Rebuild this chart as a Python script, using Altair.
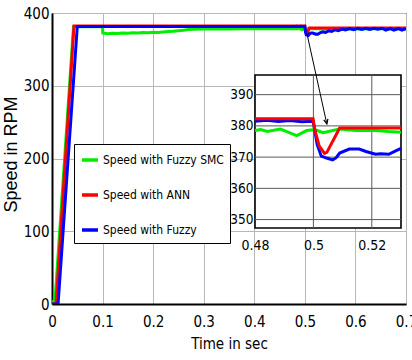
import altair as alt
import pandas as pd

# ---- series data (time in s, speed in RPM) ----
series_names = ["Speed with Fuzzy SMC", "Speed with ANN", "Speed with Fuzzy"]
series_colors = ["#00ee00", "#ff0000", "#0000ff"]

t_fsmc = [0, 0.003, 0.006, 0.0425, 0.1, 0.1005,
          0.11, 0.12, 0.13, 0.14, 0.15, 0.16, 0.17, 0.18, 0.19, 0.2, 0.21, 0.22,
          0.23, 0.24, 0.25, 0.26, 0.27, 0.28,
          0.3, 0.32, 0.35, 0.38, 0.41, 0.44, 0.47,
          0.48, 0.4819, 0.4842, 0.4887, 0.4943, 0.4977, 0.5005, 0.5033, 0.5089,
          0.5145, 0.5201, 0.5257, 0.53,
          0.56, 0.6, 0.64, 0.67, 0.7]
v_fsmc = [0, 4, 5, 381, 381, 372.5,
          371.5, 372.3, 371.8, 372.6, 372.2, 373, 372.6, 373.2, 373, 373.6, 373.3, 374,
          374.5, 374.8, 375.5, 376.3, 377.2, 377.8,
          378, 378.3, 378.1, 378.5, 378.3, 378.6, 378.4,
          378.5, 378.8, 378.2, 379, 376.9, 378.5, 378.8, 377.8, 379,
          378.5, 378.6, 378.2, 378,
          378.4, 378.1, 378.5, 378.2, 378.3]

t_ann = [0, 0.008, 0.0435, 0.48, 0.4999, 0.5004, 0.502, 0.5038, 0.5046, 0.509, 0.53, 0.7]
v_ann = [0, 0, 382.3, 382.3, 382.3, 379, 373.5, 371.2, 371.5, 379.3, 379.3, 379.3]

t_fz = [0, 0.012, 0.05,
        0.48, 0.484, 0.488, 0.492, 0.496, 0.4999,
        0.5004, 0.5013, 0.5027, 0.5045, 0.5066, 0.5078, 0.509,
        0.5123, 0.5157, 0.518, 0.5213, 0.523, 0.5258, 0.528, 0.53,
        0.536, 0.541, 0.547, 0.553, 0.56, 0.566,
        0.574, 0.58, 0.589, 0.596, 0.605, 0.612,
        0.621, 0.628, 0.637, 0.644, 0.653, 0.66,
        0.669, 0.676, 0.685, 0.692, 0.7]
v_fz = [0, 0, 381.5,
        381.5, 381.8, 381.4, 381.7, 381.3, 381.5,
        379, 374, 370.3, 369.7, 369.1, 369.8, 371.3,
        372.6, 372.6, 371.8, 370.9, 371.1, 370.9, 371.9, 372.8,
        374, 373.2, 375.5, 374.6, 377, 375.8,
        378, 376.8, 378.6, 377, 379, 377.4,
        379, 377.5, 379, 377.8, 379, 376.6,
        378.6, 376.5, 378.6, 376.4, 378.5]

# axis ticks
x_ticks = [0, 0.1, 0.2, 0.3, 0.4, 0.5, 0.6, 0.7]
y_ticks = [0, 100, 200, 300, 400]
inset_x_ticks = [0.48, 0.5, 0.52]
inset_y_ticks = [350, 360, 370, 380, 390]
inset_x_domain = [0.48, 0.53]
inset_y_domain = [347.3, 396.3]

# arrow from the disturbance to the zoomed view
arrow_t = [0.504, 0.5435]
arrow_v = [372, 247.5]


def frame(name, t, v):
    return pd.DataFrame({"t": t, "speed": v, "series": name})


df_fsmc = frame(series_names[0], t_fsmc, v_fsmc)
df_ann = frame(series_names[1], t_ann, v_ann)
df_fz = frame(series_names[2], t_fz, v_fz)

W, H = 354, 291
NARROW = "DejaVu Sans Condensed, Liberation Sans Narrow, sans-serif"

# ---- main plot ----
x_main = alt.Scale(domain=[0, 0.7], nice=False, zero=False)
y_main = alt.Scale(domain=[0, 400], nice=False, zero=False)

x_axis = alt.Axis(values=x_ticks, format="~g", title="Time in sec", grid=True,
                  gridColor="#b8b8b8", gridWidth=1, ticks=False,
                  domainColor="black", domainWidth=2.2, labelFlush=False,
                  labelOverlap=False, labelPadding=10, labelFont=NARROW,
                  labelFontSize=15, labelColor="black", titleFont=NARROW,
                  titleFontSize=15, titleFontWeight="normal", titleColor="black",
                  titlePadding=7)
y_axis = alt.Axis(values=y_ticks, title="Speed in RPM", grid=True,
                  gridColor="#b8b8b8", gridWidth=1, ticks=False,
                  domainColor="black", domainWidth=2, labelFlush=False,
                  labelOverlap=False, labelPadding=3, labelFont=NARROW,
                  labelFontSize=15, labelColor="black",
                  titleFont="Liberation Sans, Arial, sans-serif", titleFontSize=18,
                  titleFontWeight="normal", titleColor="black",
                  titleX=-32, titleY=141)

color = alt.Color(
    "series:N",
    scale=alt.Scale(domain=series_names, range=series_colors),
    legend=alt.Legend(title=None, orient="none", legendX=22, legendY=131,
                      fillColor="white", strokeColor="black", padding=6,
                      symbolType="stroke", symbolSize=256, symbolStrokeWidth=3.5,
                      labelFont=NARROW, labelFontSize=12, labelColor="black",
                      labelOffset=3, rowPadding=18),
)


def main_line(df):
    return alt.Chart(df).mark_line(strokeWidth=3, clip=True).encode(
        x=alt.X("t:Q", scale=x_main, axis=x_axis),
        y=alt.Y("speed:Q", scale=y_main, axis=y_axis),
        color=color,
    )


main = alt.layer(main_line(df_fsmc), main_line(df_ann), main_line(df_fz))

# ---- zoomed inset ----
x_in = alt.Scale(domain=inset_x_domain, range=[203, 349], nice=False, zero=False)
y_in = alt.Scale(domain=inset_y_domain, range=[215, 62], nice=False, zero=False)

in_x_axis = alt.Axis(values=inset_x_ticks, format="~g", orient="bottom", offset=-76,
                     title=None, grid=False, ticks=False, domain=False,
                     labelFlush=False, labelOverlap=False, labelPadding=10,
                     labelFont=NARROW, labelFontSize=14, labelColor="black")
in_y_axis = alt.Axis(values=inset_y_ticks, orient="left", offset=-203, title=None,
                     grid=False, ticks=False, domain=False, labelFlush=False,
                     labelOverlap=False, labelPadding=2, labelFont=NARROW,
                     labelFontSize=13.5, labelColor="black")

box_df = pd.DataFrame({"x0": [inset_x_domain[0]], "x1": [inset_x_domain[1]],
                       "y0": [inset_y_domain[0]], "y1": [inset_y_domain[1]]})
hgrid_df = pd.DataFrame({"g": inset_y_ticks, "x0": inset_x_domain[0],
                         "x1": inset_x_domain[1]})
vgrid_df = pd.DataFrame({"g": inset_x_ticks[1:], "y0": inset_y_domain[0],
                         "y1": inset_y_domain[1]})

inset_box = alt.Chart(box_df).mark_rect(fill="white", stroke="black",
                                        strokeWidth=1.6).encode(
    x=alt.X("x0:Q", scale=x_in, axis=in_x_axis), x2="x1:Q",
    y=alt.Y("y0:Q", scale=y_in, axis=in_y_axis), y2="y1:Q",
)
inset_hgrid = alt.Chart(hgrid_df).mark_rule(color="#5a5a5a", strokeWidth=1).encode(
    x=alt.X("x0:Q", scale=x_in, axis=in_x_axis), x2="x1:Q",
    y=alt.Y("g:Q", scale=y_in, axis=in_y_axis),
)
inset_vgrid = alt.Chart(vgrid_df).mark_rule(color="#5a5a5a", strokeWidth=1).encode(
    x=alt.X("g:Q", scale=x_in, axis=in_x_axis),
    y=alt.Y("y0:Q", scale=y_in, axis=in_y_axis), y2="y1:Q",
)


def inset_line(df, col):
    return alt.Chart(df).mark_line(strokeWidth=3, color=col).transform_filter(
        alt.FieldRangePredicate(field="t", range=inset_x_domain)
    ).encode(
        x=alt.X("t:Q", scale=x_in, axis=in_x_axis),
        y=alt.Y("speed:Q", scale=y_in, axis=in_y_axis),
    )


inset = alt.layer(
    inset_box, inset_hgrid, inset_vgrid,
    inset_line(df_fsmc, series_colors[0]),
    inset_line(df_fz, series_colors[2]),
    inset_line(df_ann, series_colors[1]),
)

# ---- arrow ----
arrow_df = pd.DataFrame({"t0": [arrow_t[0]], "v0": [arrow_v[0]],
                         "t1": [arrow_t[1]], "v1": [arrow_v[1]]})
x_arrow = alt.Scale(domain=[0, 0.7], nice=False, zero=False)
y_arrow = alt.Scale(domain=[0, 400], nice=False, zero=False)
arrow_line = alt.Chart(arrow_df).mark_rule(color="black", strokeWidth=1).encode(
    x=alt.X("t0:Q", scale=x_arrow, axis=None), x2="t1:Q",
    y=alt.Y("v0:Q", scale=y_arrow, axis=None), y2="v1:Q",
)
arrow_head = alt.Chart(arrow_df).mark_point(
    shape="M-0.45,-1L0,0L0.45,-1", filled=False, stroke="black", strokeWidth=1.2,
    size=90, angle=347.6, opacity=1,
).encode(
    x=alt.X("t1:Q", scale=x_arrow, axis=None),
    y=alt.Y("v1:Q", scale=y_arrow, axis=None),
)
arrow = alt.layer(arrow_line, arrow_head)

chart = alt.layer(main, inset, arrow).resolve_scale(
    x="independent", y="independent"
).properties(
    width=W, height=H, autosize="none", background="white",
    padding={"left": 52, "top": 13, "right": 6, "bottom": 56},
).configure_view(stroke="black", strokeWidth=1)

chart.save("out.html", embed_options={"renderer": "svg", "actions": False})
